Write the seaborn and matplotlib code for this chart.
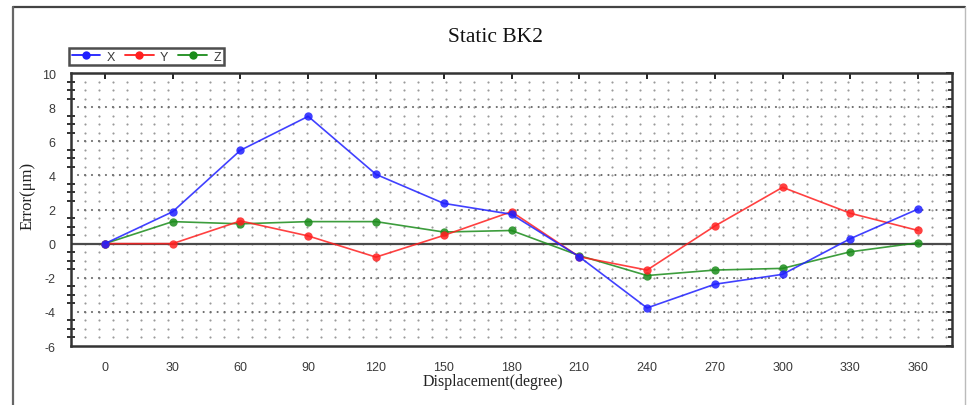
import numpy as np
import pandas as pd
import matplotlib
matplotlib.use("Agg")
import matplotlib.pyplot as plt
import matplotlib.transforms as mtransforms
from matplotlib.lines import Line2D
from matplotlib.ticker import MultipleLocator
import seaborn as sns

# ---------------- data ----------------
angles = [0, 30, 60, 90, 120, 150, 180, 210, 240, 270, 300, 330, 360]
err_x = [0.00, 1.87, 5.47, 7.46, 4.06, 2.36, 1.72, -0.77, -3.77, -2.38, -1.80, 0.29, 2.03]
err_y = [0.00, 0.00, 1.33, 0.45, -0.79, 0.48, 1.87, -0.77, -1.55, 1.03, 3.30, 1.78, 0.77]
err_z = [0.00, 1.29, 1.16, 1.29, 1.29, 0.68, 0.77, -0.70, -1.87, -1.55, -1.45, -0.48, 0.05]
series_names = ["X", "Y", "Z"]
series_colors = ["#1f1fff", "#ff2020", "#1b8c1b"]
x_ticks = list(range(0, 361, 30))
y_ticks = list(range(-6, 11, 2))
title = "Static BK2"
x_label = "Displacement(degree)"
y_label = "Error(μm)"

df = pd.DataFrame({
    "angle": angles * 3,
    "error": err_x + err_y + err_z,
    "axis": [s for s in series_names for _ in angles],
})

sns.set_style("white")
plt.rcParams["font.family"] = ["Liberation Sans", "DejaVu Sans"]
plt.rcParams["axes.unicode_minus"] = False

W, H = 972, 406
fig = plt.figure(figsize=(W / 100, H / 100), dpi=100)
ax = fig.add_axes([71 / W, 1 - 347 / H, (952 - 71) / W, (347 - 74) / H])

sns.lineplot(data=df, x="angle", y="error", hue="axis", hue_order=series_names,
             palette=series_colors, marker="o", markersize=6, markeredgewidth=0,
             linewidth=1.2, estimator=None, errorbar=None, sort=False, ax=ax)
data_lines = list(ax.lines[:3])
for ln, z in zip(data_lines, [6, 5, 4]):
    ln.set_zorder(z)
    ln.set_alpha(0.85)
if ax.get_legend() is not None:
    ax.get_legend().remove()

ax.set_xlim(-15, 375)
ax.set_ylim(-6, 10)
ax.set_xlabel("")
ax.set_ylabel("")

# ---------------- dotted grid ----------------
blend = mtransforms.blended_transform_factory(ax.transAxes, ax.transData)
col_x = (85 - 71) / 881 + np.arange(63) * (13.88 / 881)
row_y = np.arange(-5.5, 10.0, 0.5)
gx, gy = np.meshgrid(col_x, row_y)
ax.scatter(gx.ravel(), gy.ravel(), s=2.4, color="#9a9a9a", linewidths=0,
           transform=blend, zorder=1)
for yv in y_ticks[1:-1]:
    if yv == 0:
        continue
    ax.axhline(yv, color="#6a6a6a", linewidth=1.5, linestyle=(0, (0.05, 3.3)),
               dash_capstyle="round", zorder=1)
ax.axhline(0, color="#4a4a4a", linewidth=1.6, zorder=2)

# ---------------- ticks & spines ----------------
ax.set_xticks(x_ticks)
ax.set_yticks(y_ticks)
ax.yaxis.set_minor_locator(MultipleLocator(0.5))
ax.tick_params(axis="x", which="major", direction="inout", length=8, width=1.5,
               color="#222222", labelcolor="#3a3a3a", labelsize=9, pad=7)
ax.tick_params(axis="y", which="major", direction="inout", length=8, width=1.5,
               color="#222222", labelcolor="#3a3a3a", labelsize=9, pad=7)
ax.tick_params(axis="y", which="minor", direction="inout", length=6, width=1.3,
               color="#222222", left=True)
for sp in ax.spines.values():
    sp.set_color("#333333")
    sp.set_linewidth(1.8)

secx = ax.secondary_xaxis("top")
secx.set_xticks(x_ticks)
secx.tick_params(direction="in", length=4, width=1.4, color="#222222", labeltop=False)
secx.spines["top"].set_visible(False)
secy = ax.secondary_yaxis("right")
secy.set_yticks(y_ticks)
secy.yaxis.set_minor_locator(MultipleLocator(0.5))
secy.tick_params(which="major", direction="in", length=4, width=1.4, color="#222222", labelright=False)
secy.tick_params(which="minor", direction="in", length=3, width=1.2, color="#222222")
secy.spines["right"].set_visible(False)

# ---------------- legend ----------------
handles = [Line2D([], [], color=c, marker="o", markersize=6, markeredgewidth=0, linewidth=1.3)
           for c in series_colors]
leg = ax.legend(handles, series_names, loc="lower left", bbox_to_anchor=(-0.002, 1.028),
                ncol=3, frameon=True, fancybox=False, borderaxespad=0, fontsize=9,
                handlelength=2.3, handletextpad=0.5, columnspacing=0.8,
                borderpad=0.2, labelcolor="#3a3a3a")
leg.get_frame().set_edgecolor("#222222")
leg.get_frame().set_linewidth(1.8)

# ---------------- titles ----------------
serif = ["Liberation Serif", "DejaVu Serif"]
fig.text(495 / W, 1 - 37 / H, title, ha="center", va="center", fontsize=15.5,
         family=serif, color="#111111")
fig.text(493 / W, 1 - 382 / H, x_label, ha="center", va="center", fontsize=11.5,
         family=serif, color="#222222")
fig.text(28 / W, 1 - 196 / H, y_label, ha="center", va="center", rotation=90,
         fontsize=12, family=serif, color="#222222")

# ---------------- outer frame ----------------
fx = lambda px: px / W
fy = lambda py: 1 - py / H
fig.add_artist(Line2D([fx(13), fx(965)], [fy(8), fy(8)], color="#444444", linewidth=1.6,
                      transform=fig.transFigure))
fig.add_artist(Line2D([fx(13), fx(13)], [fy(8), fy(406)], color="#666666", linewidth=1.6,
                      transform=fig.transFigure))
fig.add_artist(Line2D([fx(965), fx(965)], [fy(8), fy(406)], color="#bbbbbb", linewidth=1.0,
                      transform=fig.transFigure))

fig.savefig("out.png", dpi=100)
